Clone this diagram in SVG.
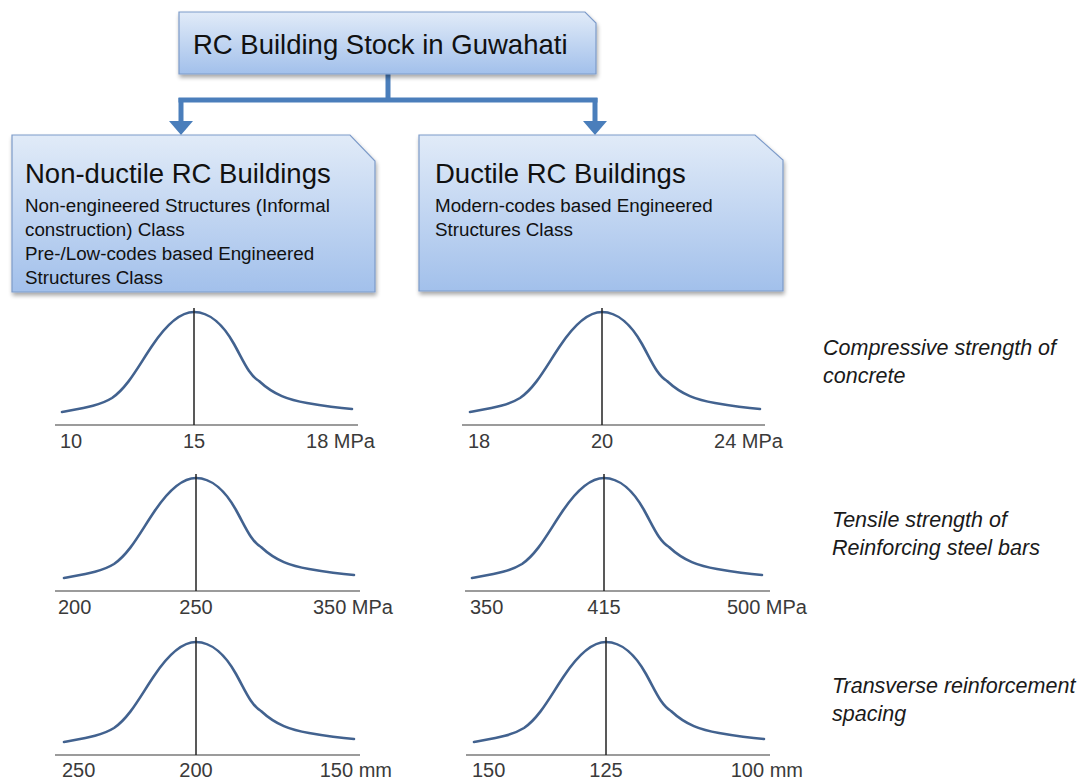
<svg xmlns="http://www.w3.org/2000/svg" xmlns:xlink="http://www.w3.org/1999/xlink" width="1080" height="781" viewBox="0 0 1080 781">
<style>
.box{stroke:#7d9bc9;stroke-width:1.2;fill:url(#boxfill);filter:url(#shadow)}
.t{font-family:"Liberation Sans",Arial,sans-serif;fill:#111}
.title{font-size:27.5px}
.sub{font-size:18.8px}
.lbl{font-family:"Liberation Sans",Arial,sans-serif;font-size:20px;fill:#3a3a3a}
.it{font-family:"Liberation Sans",Arial,sans-serif;font-size:21.5px;font-style:italic;fill:#1a1a1a}
.axis{stroke:#7a7a7a;stroke-width:1.6}
.stem{stroke:#222;stroke-width:1.5}
.curve{fill:none;stroke:#42628f;stroke-width:2.6;stroke-linecap:round}
.conn{fill:none;stroke:#4a7ebb;stroke-width:5}
</style>
<defs>
<linearGradient id="boxfill" x1="0" y1="0" x2="0" y2="1">
<stop offset="0" stop-color="#e1ebf8"/>
<stop offset="1" stop-color="#a2c0eb"/>
</linearGradient>
<filter id="shadow" x="-5%" y="-5%" width="115%" height="125%">
<feGaussianBlur in="SourceAlpha" stdDeviation="2"/>
<feOffset dx="1" dy="2.5" result="b"/>
<feComponentTransfer><feFuncA type="linear" slope="0.35"/></feComponentTransfer>
<feMerge><feMergeNode/><feMergeNode in="SourceGraphic"/></feMerge>
</filter>
<marker id="arrow" markerUnits="userSpaceOnUse" viewBox="0 -12 14 24" markerWidth="14" markerHeight="24" refX="0" refY="0" orient="auto">
<path d="M0,-12 L14,0 L0,12 Z" fill="#4a7ebb"/>
</marker>
<path id="bell" class="curve" d="M-132,-13 C-110,-17 -95,-19 -82,-27 C-66,-38 -55,-60 -42,-79 C-30,-97 -16,-113 0,-113 C16,-113 30,-99 40,-81 C50,-63 55,-50 65,-44 C80,-30 95,-25 113,-22 C130,-19 145,-17 158,-16"/>
</defs>
<rect width="1080" height="781" fill="#ffffff"/>

<g id="connectors">
<path class="conn" d="M388,74 V100 M178.5,100 H597.5"/>
<path class="conn" d="M181,98 V121" marker-end="url(#arrow)"/>
<path class="conn" d="M595,98 V121" marker-end="url(#arrow)"/>
</g>

<g id="node-root">
<path class="box" d="M179,12 H585 L596,23 V74 H179 Z"/>
<text class="t title" x="193" y="54">RC Building Stock in Guwahati</text>
</g>

<g id="node-nonductile">
<path class="box" d="M12,135 H350 L375,161 V292 H12 Z"/>
<text class="t title" x="25" y="183">Non-ductile RC Buildings</text>
<text class="t sub" x="25" y="212">Non-engineered Structures (Informal</text>
<text class="t sub" x="25" y="236">construction) Class</text>
<text class="t sub" x="25" y="260">Pre-/Low-codes based Engineered</text>
<text class="t sub" x="25" y="284">Structures Class</text>
</g>

<g id="node-ductile">
<path class="box" d="M419,135 H755 L783,160 V291 H419 Z"/>
<text class="t title" x="435" y="183">Ductile RC Buildings</text>
<text class="t sub" x="435" y="212">Modern-codes based Engineered</text>
<text class="t sub" x="435" y="236">Structures Class</text>
</g>

<g id="chart-nd-compressive" transform="translate(194,425)">
<line class="axis" x1="-139" y1="0" x2="164" y2="0"/>
<use href="#bell" xlink:href="#bell"/>
<line class="stem" x1="0" y1="-117" x2="0" y2="0"/>
<text class="lbl" x="-134" y="23">10</text>
<text class="lbl" x="0" y="23" text-anchor="middle">15</text>
<text class="lbl" x="181" y="23" text-anchor="end">18 MPa</text>
</g>

<g id="chart-d-compressive" transform="translate(602,425)">
<line class="axis" x1="-140" y1="0" x2="163" y2="0"/>
<use href="#bell" xlink:href="#bell"/>
<line class="stem" x1="0" y1="-117" x2="0" y2="0"/>
<text class="lbl" x="-134" y="23">18</text>
<text class="lbl" x="0" y="23" text-anchor="middle">20</text>
<text class="lbl" x="181" y="23" text-anchor="end">24 MPa</text>
</g>

<g id="chart-nd-tensile" transform="translate(196,591)">
<line class="axis" x1="-141" y1="0" x2="164" y2="0"/>
<use href="#bell" xlink:href="#bell"/>
<line class="stem" x1="0" y1="-117" x2="0" y2="0"/>
<text class="lbl" x="-138" y="23">200</text>
<text class="lbl" x="0" y="23" text-anchor="middle">250</text>
<text class="lbl" x="197" y="23" text-anchor="end">350 MPa</text>
</g>

<g id="chart-d-tensile" transform="translate(604,591)">
<line class="axis" x1="-139" y1="0" x2="166" y2="0"/>
<use href="#bell" xlink:href="#bell"/>
<line class="stem" x1="0" y1="-117" x2="0" y2="0"/>
<text class="lbl" x="-134" y="23">350</text>
<text class="lbl" x="0" y="23" text-anchor="middle">415</text>
<text class="lbl" x="203" y="23" text-anchor="end">500 MPa</text>
</g>

<g id="chart-nd-spacing" transform="translate(196,755)">
<line class="axis" x1="-141" y1="0" x2="164" y2="0"/>
<use href="#bell" xlink:href="#bell"/>
<line class="stem" x1="0" y1="-118" x2="0" y2="0"/>
<text class="lbl" x="-134" y="22">250</text>
<text class="lbl" x="0" y="22" text-anchor="middle">200</text>
<text class="lbl" x="196" y="22" text-anchor="end">150 mm</text>
</g>

<g id="chart-d-spacing" transform="translate(606,755)">
<line class="axis" x1="-140" y1="0" x2="164" y2="0"/>
<use href="#bell" xlink:href="#bell"/>
<line class="stem" x1="0" y1="-118" x2="0" y2="0"/>
<text class="lbl" x="-134" y="22">150</text>
<text class="lbl" x="0" y="22" text-anchor="middle">125</text>
<text class="lbl" x="197" y="22" text-anchor="end">100 mm</text>
</g>

<g id="label-compressive">
<text class="it" x="823" y="355">Compressive strength of</text>
<text class="it" x="823" y="383">concrete</text>
</g>
<g id="label-tensile">
<text class="it" x="832" y="527">Tensile strength of</text>
<text class="it" x="832" y="555">Reinforcing steel bars</text>
</g>
<g id="label-spacing">
<text class="it" x="832" y="693">Transverse reinforcement</text>
<text class="it" x="832" y="721">spacing</text>
</g>
</svg>
